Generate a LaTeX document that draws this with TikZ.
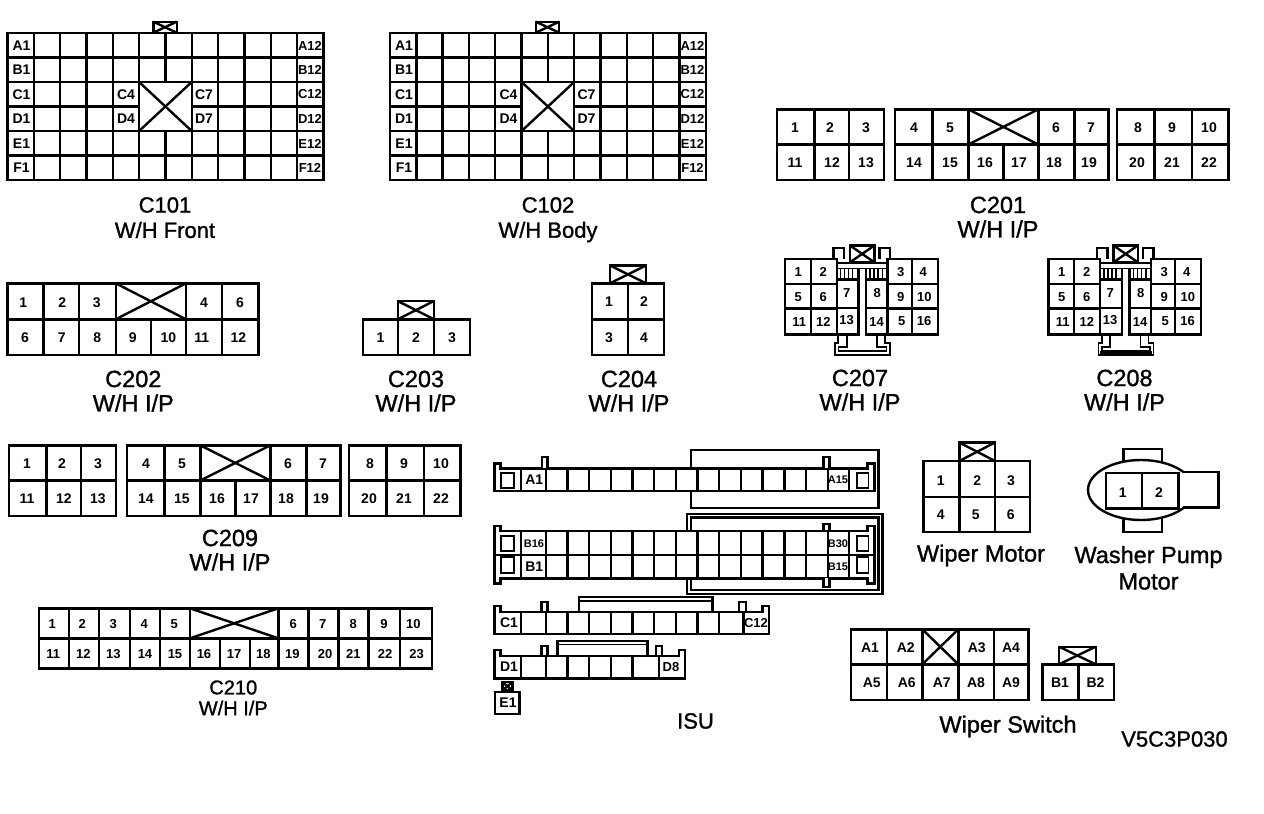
\documentclass[tikz,border=0pt]{standalone}
\usepackage{fontspec}
\setmainfont{Liberation Sans}
\newfontfamily\capfont[FakeBold=1.2]{Liberation Sans}
\tikzset{
  wall/.style={draw=black, line width=2.4pt, line join=miter},
  thinwall/.style={draw=black, line width=1.8pt},
  pin/.style={inner sep=0pt, font=\bfseries\fontsize{14}{14}\selectfont},
  midpin/.style={inner sep=0pt, font=\bfseries\fontsize{13}{13}\selectfont},
  tinypin/.style={inner sep=0pt, font=\bfseries\fontsize{11}{11}\selectfont},
  caption/.style={inner sep=0pt, font=\capfont\fontsize{23.5}{23.5}\selectfont},
  midcaption/.style={inner sep=0pt, font=\capfont\fontsize{22}{22}\selectfont},
  smallcaption/.style={inner sep=0pt, font=\capfont\fontsize{20}{20}\selectfont}
}
% rectangle with a cross through it
\newcommand{\crossbox}[4]{%
  \draw[wall, fill=white] (#1,#2) rectangle (#3,#4);
  \draw[wall] (#1,#2) -- (#3,#4);
  \draw[wall] (#1,#4) -- (#3,#2);
}
\begin{document}
\begin{tikzpicture}[x=1pt,y=-1pt]
\useasboundingbox (0,0) rectangle (1264,814);

% C101 and C102
\foreach \dx/\nm in {0/c101,382.5/c102} {
  \begin{scope}[shift={(\dx,0)}]
    \draw[wall] (7.5,32.7) rectangle (323.3,180);
    \foreach \i in {1,...,11} \draw[wall] ({7.5+26.32*\i},32.7) -- ({7.5+26.32*\i},180);
    \foreach \y in {57.3,82,106.4,131,155.6} \draw[wall] (7.5,\y) -- (323.3,\y);
    \crossbox{139.1}{82}{191.7}{131}
    \crossbox{153.3}{21.7}{176.7}{32.7}
    \foreach \y/\t in {45.5/A,70/B,94.5/C,119/D,143.5/E,168/F} {
      \node[pin] (\nm-\t1) at (21.5,\y) {\t1};
      \node[midpin] (\nm-\t12) at (310,\y) {\t12};
    }
    \foreach \x/\t in {126/C4,204/C7} \node[pin] (\nm-\t) at (\x,94.5) {\t};
    \foreach \x/\t in {126/D4,204/D7} \node[pin] (\nm-\t) at (\x,118.5) {\t};
  \end{scope}
}
\node[midcaption] (c101cap) at (165,205) {C101};
\node[midcaption] (c101sub) at (165,230) {W/H Front};
\node[midcaption] (c102cap) at (548,205) {C102};
\node[midcaption] (c102sub) at (548,232) {W/H Body};

% C201 and C209
\foreach \dx/\dy/\nm in {0/0/c201,-768/336/c209} {
  \begin{scope}[shift={(\dx,\dy)}]
    \draw[wall] (776.7,109.3) rectangle (884,180);
    \draw[wall] (776.7,144.5) -- (884,144.5);
    \foreach \x in {814.3,848.7} \draw[wall] (\x,109.3) -- (\x,180);
    \draw[wall] (895,109.3) rectangle (1108.3,180);
    \draw[wall] (895,144.5) -- (1108.3,144.5);
    \foreach \x in {932.3,968.3,1038.3,1074.3} \draw[wall] (\x,109.3) -- (\x,180);
    \draw[wall] (1003.3,144.5) -- (1003.3,180);
    \crossbox{968.3}{109.3}{1038.3}{144.5}
    \draw[wall] (1116.7,109.3) rectangle (1228.3,180);
    \draw[wall] (1116.7,144.5) -- (1228.3,144.5);
    \foreach \x in {1154.3,1191.7} \draw[wall] (\x,109.3) -- (\x,180);
    \foreach \x/\t in {795/1,830/2,866/3,914/4,950/5,1056/6,1091/7,1138/8,1172/9,1209/10}
      \node[pin] (\nm-\t) at (\x,128) {\t};
    \foreach \x/\t in {795/11,832/12,866/13,914/14,950/15,985/16,1019/17,1054/18,1089/19,1137/20,1172/21,1209/22}
      \node[pin] (\nm-\t) at (\x,162.5) {\t};
  \end{scope}
}
\node[caption] (c201cap) at (998,205) {C201};
\node[caption] (c201sub) at (998,229) {W/H I/P};
\node[caption] (c209cap) at (230,538) {C209};
\node[caption] (c209sub) at (230,562) {W/H I/P};

% C202
\draw[wall] (7.3,283.3) rectangle (258.3,355);
\draw[wall] (7.3,319.3) -- (258.3,319.3);
\foreach \x in {43.3,79,115.7,186,221.7} \draw[wall] (\x,283.3) -- (\x,355);
\draw[wall] (151,319.3) -- (151,355);
\crossbox{115.7}{283.3}{186}{319.3}
\foreach \x/\t in {23.3/1,62.3/2,96.7/3,204/4,240/6} \node[pin] (c202-\t) at (\x,302.3) {\t};
\foreach \x/\t in {25/6,61.7/7,97.3/8,132.7/9,168.3/10,201.7/11,238.3/12} \node[pin] (c202-\t) at (\x,337.5) {\t};
\node[caption] (c202cap) at (133.3,379) {C202};
\node[caption] (c202sub) at (133.3,403) {W/H I/P};

% C203
\draw[wall] (362.7,319.3) rectangle (470,355);
\foreach \x in {397.7,434} \draw[wall] (\x,319.3) -- (\x,355);
\crossbox{397.7}{301}{434}{319.3}
\foreach \x/\t in {380.5/1,416/2,452/3} \node[pin] (c203-\t) at (\x,337.5) {\t};
\node[caption] (c203cap) at (416,379) {C203};
\node[caption] (c203sub) at (416,403) {W/H I/P};

% C204
\draw[wall] (592,283.3) rectangle (664,355);
\draw[wall] (592,319.3) -- (664,319.3);
\draw[wall] (628,283.3) -- (628,355);
\crossbox{610}{265.5}{646}{283.3}
\foreach \x/\y/\t in {609/302/1,644/302/2,609/337.5/3,644/337.5/4} \node[pin] (c204-\t) at (\x,\y) {\t};
\node[caption] (c204cap) at (629,379) {C204};
\node[caption] (c204sub) at (629,403) {W/H I/P};

% C207 and C208
\foreach \dx/\nm in {0/c207,263.5/c208} {
  \begin{scope}[shift={(\dx,0)}]
    % side tabs and band
    \draw[wall] (833.5,259) -- (833.5,247.7) -- (844,247.7) -- (844,259);
    \draw[wall] (879.5,259) -- (879.5,247.7) -- (890,247.7) -- (890,259);
    \crossbox{850}{245.5}{874.3}{262.3}
    \draw[thinwall] (836.7,263.3) -- (887.3,263.3);
    \draw[thinwall] (836.7,268.5) -- (887.3,268.5);
    \foreach \x in {840.5,844.5,848.5,852.5,870,874,878,882.5} \draw[line width=1.5pt] (\x,268.5) -- (\x,278);
    % bottom clip
    \draw[thinwall] (838.3,334) -- (838.3,343.3) -- (835,343.3) -- (835,355) -- (890,355) -- (890,343.3) -- (885,343.3) -- (885,334);
    \draw[thinwall] (846.7,334) -- (846.7,347) -- (838.5,347) -- (838.5,351) -- (886.5,351) -- (886.5,347) -- (877,347) -- (877,334);
    % blocks
    \draw[wall] (785,259) rectangle (836.7,334.3);
    \draw[wall] (785,284) -- (836.7,284);
    \draw[wall] (785,308.3) -- (836.7,308.3);
    \draw[wall] (810.7,259) -- (810.7,334.3);
    \draw[wall] (887.3,259) rectangle (937.7,334.3);
    \draw[wall] (887.3,284) -- (937.7,284);
    \draw[wall] (887.3,308.3) -- (937.7,308.3);
    \draw[wall] (911.7,259) -- (911.7,334.3);
    \draw[wall] (858.3,268.5) -- (858.3,334.3) -- (836.7,334.3);
    \draw[wall] (836.7,279.3) -- (858.3,279.3);
    \draw[wall] (836.7,307.7) -- (858.3,307.7);
    \draw[wall] (866,268.5) -- (866,334.3) -- (887.3,334.3);
    \draw[wall] (866,279.3) -- (887.3,279.3);
    \draw[wall] (866,307.7) -- (887.3,307.7);
    \foreach \x/\y/\t in {798.3/272/1,823.3/272/2,900.7/272/3,923.3/272/4,798.3/297/5,823.3/297/6,846.7/293.5/7,877.3/293.5/8,900.7/297/9,924.3/297/10,799.3/322/11,823.3/322/12,846.7/320.5/13,876.7/322/14,901.7/321.5/5,924/321.5/16}
      \node[midpin] (\nm-\t) at (\x,\y) {\t};
  \end{scope}
}
\draw[line width=3.5pt] (1100,352.5) -- (1152,352.5);
\node[caption] (c207cap) at (860,378) {C207};
\node[caption] (c207sub) at (860,402) {W/H I/P};
\node[caption] (c208cap) at (1124.5,378) {C208};
\node[caption] (c208sub) at (1124.5,402) {W/H I/P};

% C210
\draw[wall] (39,608.3) rectangle (431.7,668.3);
\draw[wall] (39,638.3) -- (431.7,638.3);
\foreach \x in {69,99,130,160,190,278.3,308.3,338.3,368.3,400} \draw[wall] (\x,608.3) -- (\x,668.3);
\foreach \x in {220,250} \draw[wall] (\x,638.3) -- (\x,668.3);
\crossbox{190}{608.3}{278.3}{638.3}
\foreach \x/\t in {52.3/1,82.3/2,113.3/3,144.3/4,174.3/5,293.3/6,322.7/7,353.3/8,384/9,413.3/10}
  \node[midpin] (c210-\t) at (\x,624) {\t};
\foreach \x/\t in {53.3/11,83.3/12,113.3/13,145/14,175/15,204/16,234/17,263.3/18,292.3/19,325/20,353.3/21,385/22,416.7/23}
  \node[midpin] (c210-\t) at (\x,654.3) {\t};
\node[smallcaption] (c210cap) at (233.3,687.5) {C210};
\node[smallcaption] (c210sub) at (233.3,708) {W/H I/P};

% ISU row A
\draw[wall] (691,450) rectangle (878.3,507.7);
\draw[wall, fill=white] (494.3,490.7) -- (494.3,463.5) -- (500.5,463.5) -- (500.5,468.3) -- (867.5,468.3) -- (867.5,463.5) -- (874.3,463.5) -- (874.3,490.7) -- cycle;
\draw[wall, fill=white] (541.9,468.3) -- (541.9,457) -- (547.5,457) -- (547.5,468.3);
\draw[wall, fill=white] (823.3,468.3) -- (823.3,457) -- (829.3,457) -- (829.3,468.3);
\foreach \x in {521,545.7,567.4,589.1,610.8,632.5,654.2,675.9,697.5,719.2,740.9,762.6,784.3,806,827.7,849}
  \draw[wall] (\x,468.3) -- (\x,490.7);
\draw[thinwall] (501,473.3) rectangle (514.3,488.3);
\draw[thinwall] (856.7,473.3) rectangle (868.5,488.3);
\node[pin] (isu-a1) at (534.3,480) {A1};
\node[tinypin] (isu-a15) at (838,480) {A15};

% ISU row B
\draw[wall] (686.7,514) rectangle (882.3,594);
\draw[wall] (691,517.5) rectangle (878.3,590);
\draw[wall, fill=white] (823.3,530.7) -- (823.3,523.7) -- (829.3,523.7) -- (829.3,530.7);
\draw[wall, fill=white] (500.5,530.7) -- (500.5,526) -- (494.3,526) -- (494.3,583.3) -- (500.5,583.3) -- (500.5,578.3) -- (867.5,578.3) -- (867.5,583.3) -- (874.3,583.3) -- (874.3,526) -- (867.5,526) -- (867.5,530.7) -- cycle;
\draw[wall, fill=white] (823.3,578.3) -- (823.3,586.7) -- (829.3,586.7) -- (829.3,578.3);
\draw[wall] (494.3,555) -- (874.3,555);
\foreach \x in {521,545.7,567.4,589.1,610.8,632.5,654.2,675.9,697.5,719.2,740.9,762.6,784.3,806,827.7,849}
  \draw[wall] (\x,530.7) -- (\x,578.3);
\foreach \y in {536,557.3} {
  \draw[thinwall] (501,\y) rectangle (514.3,\y+15.3);
  \draw[thinwall] (856.7,\y) rectangle (868.5,\y+15.3);
}
\node[tinypin] (isu-b16) at (534,544) {B16};
\node[pin] (isu-b1) at (534.3,567) {B1};
\node[tinypin] (isu-b30) at (838,544) {B30};
\node[tinypin] (isu-b15) at (838,567) {B15};

% ISU row C
\draw[wall] (579,611.7) -- (579,597) -- (712.3,597) -- (712.3,611.7);
\draw[thinwall] (579,601) -- (712.3,601);
\draw[wall, fill=white] (541.5,611.7) -- (541.5,602) -- (547.5,602) -- (547.5,611.7);
\draw[wall, fill=white] (739,611.7) -- (739,602) -- (745.7,602) -- (745.7,611.7);
\draw[wall] (494.3,634) -- (494.3,606) -- (500.5,606) -- (500.5,611.7) -- (762.5,611.7) -- (762.5,606) -- (769,606) -- (769,634) -- cycle;
\foreach \x in {521,545.7,567.4,589.1,610.8,632.5,654.2,675.9,697.5,719.2,743.3}
  \draw[wall] (\x,611.7) -- (\x,634);
\node[pin] (isu-c1) at (509,622.8) {C1};
\node[midpin] (isu-c12) at (756,622.8) {C12};

% ISU row D
\draw[wall] (557.3,656) -- (557.3,641) -- (647.3,641) -- (647.3,656);
\draw[thinwall] (557.3,644.5) -- (647.3,644.5);
\draw[wall, fill=white] (541.5,656) -- (541.5,646) -- (547.5,646) -- (547.5,656);
\draw[wall, fill=white] (655.7,656) -- (655.7,646) -- (661.7,646) -- (661.7,656);
\draw[wall] (494.3,678.3) -- (494.3,650) -- (500.5,650) -- (500.5,656) -- (679,656) -- (679,650) -- (685,650) -- (685,678.3) -- cycle;
\foreach \x in {521,545.7,567.4,589.1,610.8,632.5,659}
  \draw[wall] (\x,656) -- (\x,678.3);
\node[pin] (isu-d1) at (509,667) {D1};
\node[midpin] (isu-d8) at (671,667) {D8};

% E1 and ISU label
\crossbox{502.5}{682}{512.3}{690.5}
\draw[wall] (494.8,691.7) rectangle (519.3,714);
\node[pin] (isu-e1) at (508,702.5) {E1};
\node[midcaption] (isucap) at (695.5,721) {ISU};

% Wiper Motor
\draw[wall] (923.3,461) rectangle (1030,531.7);
\draw[wall] (923.3,496.7) -- (1030,496.7);
\foreach \x in {959.3,995} \draw[wall] (\x,461) -- (\x,531.7);
\crossbox{959.3}{442.5}{995}{461}
\foreach \x/\y/\t in {940.7/480.7/1,977.3/480.7/2,1011/480.7/3,940.7/515/4,975.7/515/5,1010.7/515/6}
  \node[pin] (wm-\t) at (\x,\y) {\t};
\node[caption] (wmcap) at (981,555.5) {Wiper Motor};

% Washer Pump Motor
\draw[wall] (1123.3,462) -- (1123.3,449) -- (1161.7,449) -- (1161.7,462);
\draw[wall] (1123.3,518) -- (1123.3,531.7) -- (1161.7,531.7) -- (1161.7,518);
\draw[wall, fill=white] (1141,490) ellipse [x radius=53pt, y radius=30pt];
\fill[white] (1183,473) rectangle (1200,507);
\draw[wall] (1183,471.7) -- (1218.3,471.7) -- (1218.3,507.3) -- (1183,507.3);
\draw[wall] (1105.7,472.7) rectangle (1178.3,508.3);
\draw[wall] (1141.7,472.7) -- (1141.7,508.3);
\foreach \x/\t in {1122.7/1,1159/2} \node[pin] (wp-\t) at (\x,492.3) {\t};
\node[caption] (wpcap) at (1148.5,557) {Washer Pump};
\node[caption] (wpsub) at (1148.5,581.5) {Motor};

% Wiper Switch
\draw[wall] (850.7,629.3) rectangle (1028.3,700);
\draw[wall] (850.7,664.3) -- (1028.3,664.3);
\foreach \x in {886.7,922.3,958.3,994} \draw[wall] (\x,629.3) -- (\x,700);
\crossbox{922.3}{629.3}{958.3}{664.3}
\foreach \x/\t in {870/A1,905.7/A2,976.7/A3,1011/A4} \node[pin] (ws-\t) at (\x,647.7) {\t};
\foreach \x/\t in {871.7/A5,906.7/A6,941.7/A7,976/A8,1011/A9} \node[pin] (ws-\t) at (\x,682.7) {\t};
\draw[wall] (1042.3,664.3) rectangle (1114,700);
\draw[wall] (1078.3,664.3) -- (1078.3,700);
\crossbox{1059}{646.7}{1095.7}{664.3}
\foreach \x/\t in {1060/B1,1095.5/B2} \node[pin] (ws-\t) at (\x,683) {\t};
\node[caption] (wscap) at (1008,726.5) {Wiper Switch};
\node[midcaption] (refcode) at (1174.5,739) {V5C3P030};

\end{tikzpicture}
\end{document}
